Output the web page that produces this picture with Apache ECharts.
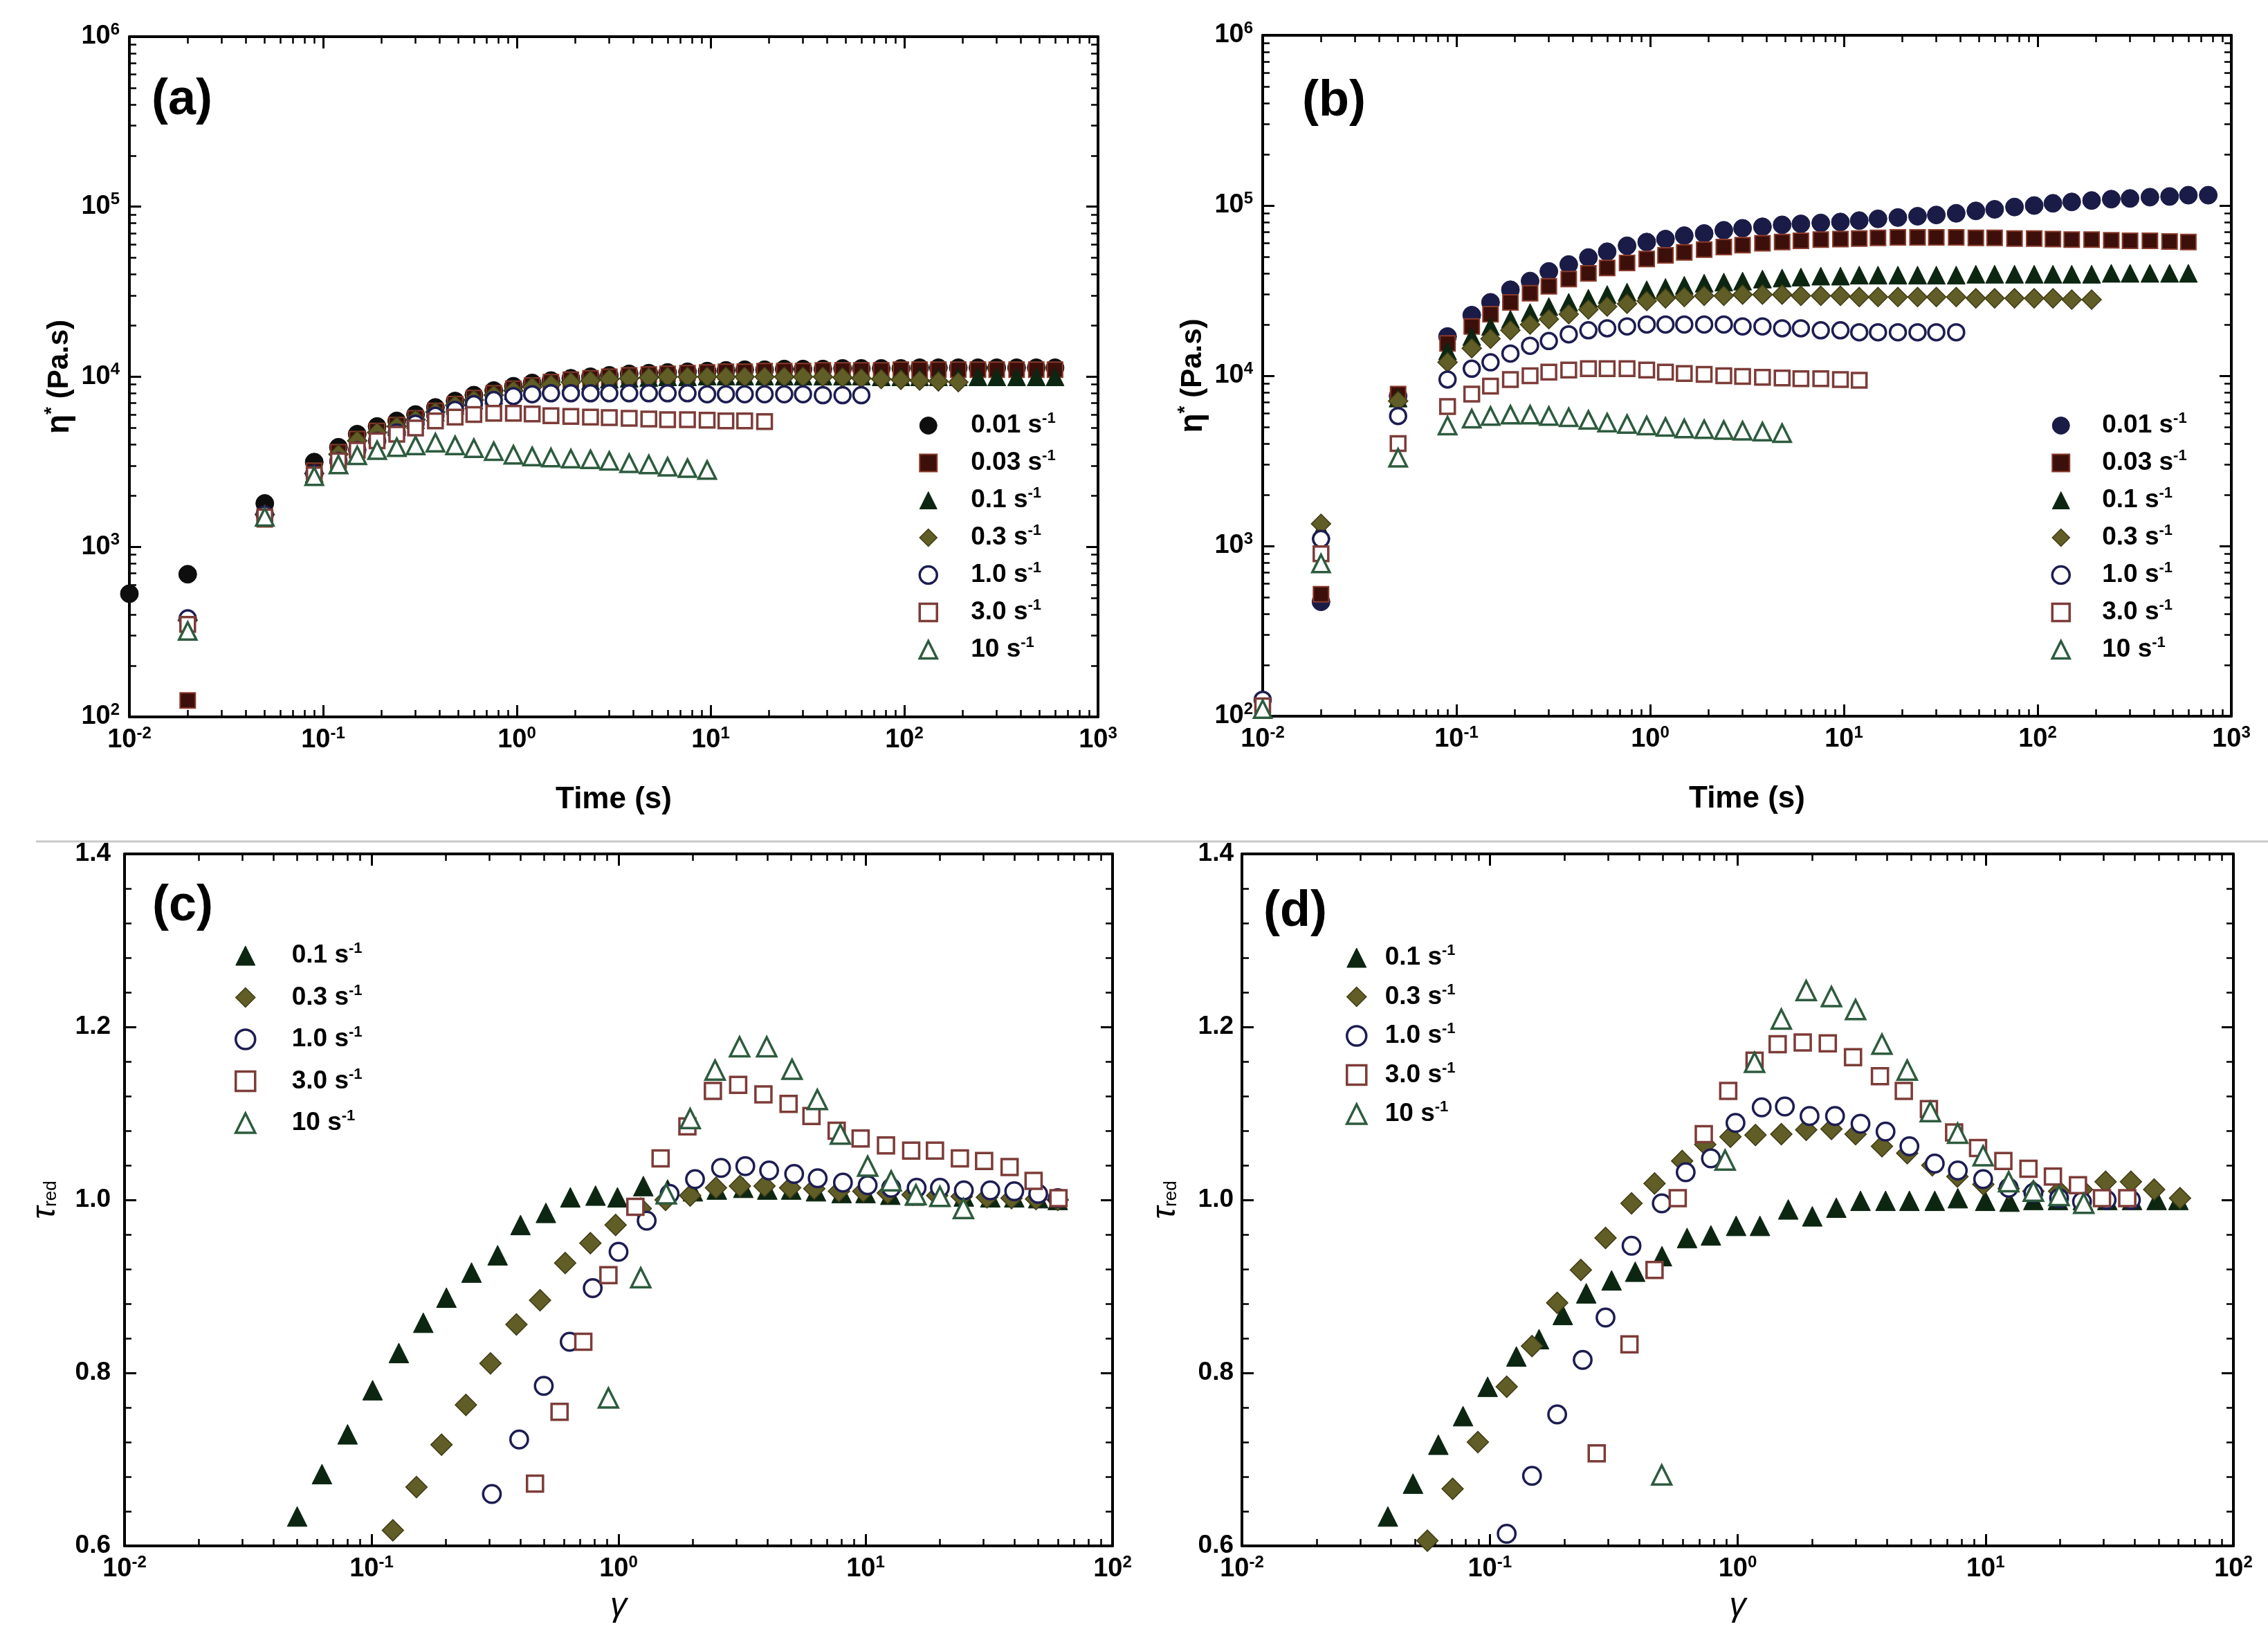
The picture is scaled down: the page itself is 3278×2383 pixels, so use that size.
<!DOCTYPE html>
<html><head><meta charset="utf-8">
<script src="https://cdn.jsdelivr.net/npm/echarts@6/dist/echarts.min.js"></script>
<style>html,body{margin:0;padding:0;background:#fff}#c{width:3278px;height:2383px}</style>
</head><body><div id="c"></div>
<script>
// ---------------- DATA ----------------
const RATES = ['0.01', '0.03', '0.1', '0.3', '1.0', '3.0', '10'];
const RATES_CD = ['0.1', '0.3', '1.0', '3.0', '10'];
const TIME = [0.01, 0.02, 0.05, 0.09, 0.12, 0.15, 0.19, 0.24, 0.30, 0.38,
  0.48, 0.60, 0.76, 0.96, 1.2, 1.5, 1.9, 2.4, 3.0, 3.8,
  4.8, 6.0, 7.6, 9.6, 12, 15, 19, 24, 30, 38,
  48, 60, 76, 96, 120, 150, 190, 240, 300, 380,
  480, 600, 760];
const X_LOG_TICKS_AB = [0.01, 1000];
const Y_LOG_TICKS_AB = [100, 1000000];
const X_LOG_TICKS_CD = [0.01, 100];
const Y_LIN_TICKS_CD = [0.6, 1.4, 0.2];

// panel (a): eta* (Pa.s) vs time
const A_001 = [530, 690, 1800, 3150, 3850, 4600, 5100, 5500, 6000, 6600,
  7200, 7800, 8300, 8800, 9200, 9500, 9800, 10000, 10200, 10400,
  10500, 10600, 10700, 10800, 10900, 11000, 11000, 11100, 11100, 11100,
  11200, 11200, 11200, 11200, 11300, 11300, 11300, 11300, 11300, 11300,
  11300, 11300];
const A_003 = [null, 125, 1450, 2800, 3600, 4300, 4800, 5200, 5700, 6300,
  6900, 7500, 8000, 8500, 8900, 9300, 9600, 9800, 10000, 10200,
  10300, 10400, 10500, 10600, 10700, 10700, 10800, 10800, 10800, 10900,
  10900, 10900, 10900, 11000, 11000, 11000, 11000, 11000, 11000, 11000,
  11000, 11000];
const A_01 = [null, 320, 1500, 2700, 3500, 4200, 4700, 5100, 5600, 6200,
  6800, 7300, 7800, 8300, 8700, 9000, 9300, 9500, 9700, 9800,
  9900, 10000, 10000, 10100, 10100, 10100, 10100, 10100, 10100, 10100,
  10100, 10100, 10000, 10000, 10000, 10000, 10000, 10000, 10000, 10000,
  10000, 10000];
const A_03 = [null, 370, 1550, 2700, 3500, 4200, 4700, 5100, 5600, 6200,
  6800, 7300, 7800, 8300, 8700, 9000, 9300, 9500, 9700, 9800,
  9900, 10000, 10000, 10000, 10000, 10000, 10000, 10000, 10000, 10000,
  9900, 9800, 9700, 9600, 9500, 9400, 9300];
const A_1 = [null, 380, 1550, 2700, 3200, 3700, 4200, 4700, 5300, 5900,
  6400, 6900, 7300, 7700, 7900, 8000, 8000, 8000, 8000, 8000,
  8000, 8000, 8000, 7900, 7900, 7900, 7900, 7900, 7900, 7800,
  7800, 7800];
const A_3 = [null, 350, 1500, 2650, 3200, 3700, 4200, 4600, 5000, 5500,
  5800, 6000, 6100, 6100, 6050, 5900, 5850, 5800, 5750, 5700,
  5650, 5600, 5600, 5550, 5500, 5500, 5450];
const A_10 = [null, 320, 1500, 2600, 3050, 3450, 3700, 3850, 3950, 4100,
  3950, 3800, 3650, 3480, 3400, 3350, 3300, 3270, 3200, 3100,
  3050, 2960, 2900, 2830];

// panel (b)
const B_001 = [null, 470, 7600, 17000, 22700, 27000, 32000, 36000, 41000, 45000,
  49500, 53500, 58000, 61000, 63500, 66500, 68500, 71500, 73500, 75000,
  77000, 78000, 79000, 80000, 81500, 83500, 85000, 86500, 88000, 90000,
  93000, 95000, 98000, 100000, 103000, 105000, 107000, 109000, 110000, 112000,
  113000, 115000, 115000];
const B_003 = [null, 520, 7800, 15500, 19500, 23000, 27000, 30500, 33500, 37000,
  40000, 43000, 46000, 48500, 51000, 53000, 55000, 57000, 58500, 60000,
  61000, 62000, 63000, 63500, 64000, 64500, 65000, 65000, 65000, 65000,
  64500, 64500, 64000, 64000, 63500, 63000, 63000, 62500, 62000, 62000,
  61500, 61000];
const B_01 = [null, 1250, 7400, 14000, 17000, 19500, 21500, 23500, 25500, 27000,
  28500, 30000, 31000, 32000, 33000, 34000, 35000, 35500, 36000, 37000,
  37500, 38000, 38500, 38500, 39000, 39000, 39000, 39000, 39000, 39000,
  39500, 39500, 39500, 39500, 39500, 39500, 39500, 40000, 40000, 40000,
  40000, 40000];
const B_03 = [null, 1350, 7100, 12000, 14500, 16500, 18500, 20000, 21500, 23000,
  24500, 25500, 26500, 27500, 28500, 29000, 29500, 29500, 30000, 30000,
  30000, 29500, 29500, 29500, 29000, 29000, 29000, 29000, 29000, 29000,
  28500, 28500, 28500, 28500, 28500, 28000, 28000];
const B_1 = [125, 1100, 5800, 9500, 11000, 12000, 13500, 15000, 16000, 17500,
  18500, 19000, 19500, 20000, 20000, 20000, 20000, 20000, 19500, 19500,
  19000, 19000, 18500, 18500, 18000, 18000, 18000, 18000, 18000, 18000];
const B_3 = [115, 900, 4000, 6600, 7800, 8700, 9500, 10000, 10500, 10800,
  11000, 11000, 11000, 10800, 10500, 10300, 10200, 10000, 9900, 9800,
  9700, 9600, 9600, 9500, 9400];
const B_10 = [110, 790, 3300, 5100, 5600, 5800, 5900, 5900, 5800, 5700,
  5500, 5300, 5200, 5100, 5000, 4900, 4850, 4800, 4750, 4700,
  4600];

// panel (c): tau_red vs strain
const C_G01 = [0.050, 0.063, 0.080, 0.101, 0.129, 0.162, 0.201, 0.254, 0.324, 0.401, 0.508, 0.638, 0.807, 0.99, 1.26, 1.58, 2.0, 2.5, 3.2, 4.0, 5.0, 6.3, 8.0, 10, 12.6, 15.8, 20, 25, 32, 40, 50, 60];
const C_T01 = [0.634, 0.683, 0.729, 0.780, 0.823, 0.858, 0.887, 0.916, 0.936, 0.971, 0.985, 1.003, 1.005, 1.003, 1.016, 1.012, 1.010, 1.012, 1.014, 1.012, 1.012, 1.010, 1.008, 1.008, 1.006, 1.005, 1.004, 1.004, 1.003, 1.003, 1.002, 1.0];
const C_G03 = [0.122, 0.152, 0.192, 0.241, 0.303, 0.386, 0.481, 0.608, 0.769, 0.973, 1.23, 1.55, 1.95, 2.48, 3.1, 3.9, 4.95, 6.2, 7.8, 9.8, 12.3, 15.5, 19.5, 24.5, 31, 39, 49, 60];
const C_T03 = [0.618, 0.668, 0.717, 0.763, 0.811, 0.856, 0.884, 0.927, 0.950, 0.971, 0.99, 1.0, 1.005, 1.014, 1.016, 1.016, 1.014, 1.013, 1.010, 1.010, 1.008, 1.006, 1.005, 1.004, 1.003, 1.002, 1.001, 1.0];
const C_G1 = [0.307, 0.396, 0.498, 0.634, 0.786, 1.0, 1.30, 1.61, 2.04, 2.6, 3.26, 4.07, 5.14, 6.4, 8.1, 10.2, 12.7, 16.1, 20, 25, 32, 40, 50, 60];
const C_T1 = [0.660, 0.723, 0.785, 0.836, 0.898, 0.940, 0.976, 1.007, 1.024, 1.037, 1.039, 1.034, 1.030, 1.025, 1.020, 1.017, 1.014, 1.014, 1.014, 1.011, 1.011, 1.010, 1.007, 1.002];
const C_G3 = [0.459, 0.577, 0.72, 0.91, 1.17, 1.48, 1.9, 2.41, 3.05, 3.86, 4.88, 6.04, 7.64, 9.55, 12.1, 15.3, 19.1, 24.1, 30.2, 38.3, 47.9, 60.4];
const C_T3 = [0.672, 0.755, 0.836, 0.913, 0.992, 1.048, 1.085, 1.126, 1.133, 1.122, 1.111, 1.097, 1.080, 1.071, 1.063, 1.057, 1.057, 1.048, 1.045, 1.038, 1.022, 1.002];
const C_G10 = [0.91, 1.23, 1.56, 1.95, 2.46, 3.09, 3.98, 5.04, 6.38, 7.91, 10.2, 12.7, 16, 20, 24.9];
const C_T10 = [0.771, 0.910, 1.007, 1.094, 1.150, 1.177, 1.177, 1.151, 1.116, 1.076, 1.039, 1.022, 1.006, 1.004, 0.99];

// panel (d)
const D_G01 = [0.0388, 0.049, 0.062, 0.078, 0.098, 0.128, 0.158, 0.197, 0.245, 0.31, 0.386, 0.495, 0.625, 0.78, 0.986, 1.23, 1.60, 2.0, 2.5, 3.13, 3.95, 4.93, 6.24, 7.73, 9.97, 12.5, 15.6, 19.6, 24.7, 31, 39, 49, 60];
const D_T01 = [0.634, 0.672, 0.717, 0.750, 0.784, 0.819, 0.839, 0.867, 0.892, 0.907, 0.917, 0.935, 0.956, 0.959, 0.970, 0.970, 0.989, 0.981, 0.991, 0.999, 0.999, 0.999, 0.999, 1.002, 0.999, 0.998, 1.0, 1.0, 1.0, 1.0, 1.0, 1.0, 1.0];
const D_G03 = [0.056, 0.0708, 0.0895, 0.117, 0.148, 0.187, 0.233, 0.293, 0.373, 0.462, 0.597, 0.74, 0.935, 1.18, 1.5, 1.89, 2.39, 2.99, 3.82, 4.83, 6.1, 7.7, 9.8, 12.4, 15.6, 19.8, 24.5, 30.5, 38.6, 47.9, 60.9];
const D_T03 = [0.606, 0.666, 0.720, 0.784, 0.831, 0.881, 0.919, 0.956, 0.996, 1.019, 1.045, 1.064, 1.073, 1.075, 1.076, 1.081, 1.082, 1.076, 1.062, 1.054, 1.040, 1.027, 1.018, 1.013, 1.010, 1.010, 1.012, 1.021, 1.021, 1.012, 1.002];
const D_G1 = [0.117, 0.148, 0.187, 0.237, 0.293, 0.373, 0.494, 0.617, 0.78, 0.98, 1.25, 1.55, 1.95, 2.47, 3.13, 3.95, 4.93, 6.24, 7.73, 9.78, 12.4, 15.6, 19.8, 24.5, 30.8, 38.6];
const D_T1 = [0.614, 0.681, 0.752, 0.815, 0.864, 0.947, 0.996, 1.032, 1.048, 1.089, 1.107, 1.108, 1.097, 1.097, 1.088, 1.079, 1.062, 1.042, 1.034, 1.024, 1.014, 1.008, 1.002, 0.998, 1.0, 1.0];
const D_G3 = [0.27, 0.366, 0.462, 0.573, 0.73, 0.916, 1.17, 1.45, 1.83, 2.31, 2.92, 3.75, 4.68, 5.91, 7.47, 9.33, 11.8, 14.9, 18.7, 23.6, 29.5, 37.3];
const D_T3 = [0.707, 0.833, 0.919, 1.002, 1.076, 1.126, 1.161, 1.180, 1.182, 1.181, 1.165, 1.143, 1.126, 1.105, 1.078, 1.060, 1.045, 1.036, 1.027, 1.017, 1.002, 1.002];
const D_G10 = [0.494, 0.89, 1.17, 1.5, 1.89, 2.39, 2.99, 3.82, 4.83, 5.99, 7.72, 9.78, 12.4, 15.6, 19.8, 24.9];
const D_T10 = [0.682, 1.046, 1.159, 1.209, 1.242, 1.235, 1.220, 1.180, 1.150, 1.102, 1.077, 1.051, 1.021, 1.010, 1.005, 0.996];

// ---------------- STYLE ----------------
const FF = "'Liberation Sans', Arial, Helvetica, sans-serif";
const STYLE = {
  '0.01': {symbol: 'circle', size: 26, fill: '#0e0e0e', stroke: '#0e0e0e', bw: 1},
  '0.03': {symbol: 'rect', size: 22, fill: '#3c0f0a', stroke: '#8a3b2b', bw: 2},
  '0.1': {symbol: 'triangle', size: 26, fill: '#0c2611', stroke: '#0c2611', bw: 1},
  '0.3': {symbol: 'diamond', size: 28, fill: '#615d26', stroke: '#3f3c16', bw: 1.5},
  '1.0': {symbol: 'circle', size: 23, fill: '#ffffff', stroke: '#1d1d52', bw: 3.5},
  '3.0': {symbol: 'rect', size: 21, fill: '#ffffff', stroke: '#7d3c38', bw: 3.5},
  '10': {symbol: 'triangle', size: 25, fill: '#ffffff', stroke: '#2d5b3e', bw: 3.5}
};
const B_CIRCLE = '#1b1b48';

const GRIDS = [
  {left: 187, top: 53, width: 1400, height: 983},
  {left: 1825, top: 51, width: 1400, height: 984},
  {left: 180, top: 1234, width: 1428, height: 1000},
  {left: 1795, top: 1234, width: 1433, height: 1000}
];

const tickRich = {
  b: {fontSize: 38, fontWeight: 'bold', fontFamily: FF, color: '#000'},
  s: {fontSize: 24, fontWeight: 'bold', fontFamily: FF, color: '#000', padding: [0, 0, 20, 0]}
};
const logFmt = v => '{b|10}{s|' + Math.round(Math.log10(v)) + '}';

const lineStyleAxis = {color: '#000', width: 4};
function axisBase(extra) {
  return Object.assign({
    axisLine: {show: true, onZero: false, lineStyle: lineStyleAxis},
    axisTick: {show: true, inside: true, length: 17, lineStyle: {color: '#000', width: 3}},
    splitLine: {show: false},
    minorSplitLine: {show: false}
  }, extra);
}

const xAxes = [], yAxes = [];
function addLogX(gi, mm, nameText, nameGap, nameRich) {
  const common = {type: 'log', logBase: 10, min: mm[0], max: mm[1], gridIndex: gi,
    minorTick: {show: true, splitNumber: 9, length: 10, lineStyle: {color: '#000', width: 2.5}}};
  xAxes.push(axisBase(Object.assign({}, common, {
    position: 'bottom',
    axisLabel: {show: true, margin: 12, formatter: logFmt, rich: tickRich},
    name: nameText, nameLocation: 'middle', nameGap: nameGap,
    nameTextStyle: {rich: nameRich}
  })));
  xAxes.push(axisBase(Object.assign({}, common, {position: 'top', axisLabel: {show: false}})));
}
function addLogY(gi, mm, nameText, nameGap, nameRich) {
  const common = {type: 'log', logBase: 10, min: mm[0], max: mm[1], gridIndex: gi,
    minorTick: {show: true, splitNumber: 9, length: 10, lineStyle: {color: '#000', width: 2.5}}};
  yAxes.push(axisBase(Object.assign({}, common, {
    position: 'left',
    axisLabel: {show: true, margin: 14, formatter: logFmt, rich: tickRich},
    name: nameText, nameLocation: 'middle', nameGap: nameGap, nameRotate: 90,
    nameTextStyle: {rich: nameRich}
  })));
  yAxes.push(axisBase(Object.assign({}, common, {position: 'right', axisLabel: {show: false}})));
}
function addLinY(gi, mm, nameText, nameGap, nameRich, margin) {
  const common = {type: 'value', min: mm[0], max: mm[1], interval: mm[2], gridIndex: gi,
    minorTick: {show: true, splitNumber: 5, length: 10, lineStyle: {color: '#000', width: 2.5}}};
  yAxes.push(axisBase(Object.assign({}, common, {
    position: 'left',
    axisLabel: {show: true, margin: margin, formatter: v => v.toFixed(1),
      fontSize: 37, fontWeight: 'bold', fontFamily: FF, color: '#000'},
    name: nameText, nameLocation: 'middle', nameGap: nameGap, nameRotate: 90,
    nameTextStyle: {rich: nameRich}
  })));
  yAxes.push(axisBase(Object.assign({}, common, {position: 'right', axisLabel: {show: false}})));
}

const timeRich = {n: {fontSize: 44, fontWeight: 'bold', fontFamily: FF, color: '#000'}};
const etaRich = {
  e: {fontSize: 46, fontWeight: 'bold', fontFamily: FF, color: '#000'},
  st: {fontSize: 28, fontWeight: 'bold', fontFamily: FF, color: '#000', padding: [0, 0, 22, 0]},
  n: {fontSize: 42, fontWeight: 'bold', fontFamily: FF, color: '#000'}
};
const gamRich = {g: {fontSize: 48, fontStyle: 'italic', fontFamily: FF, color: '#000'}};
const tauRich = {
  t: {fontSize: 48, fontStyle: 'italic', fontFamily: FF, color: '#000'},
  r: {fontSize: 26, fontFamily: FF, color: '#000', padding: [16, 0, 0, 0]}
};

addLogX(0, X_LOG_TICKS_AB, '{n|Time (s)}', 98, timeRich);
addLogY(0, Y_LOG_TICKS_AB, '{e|η}{st|*}{n| (Pa.s)}', 76, etaRich);
addLogX(1, X_LOG_TICKS_AB, '{n|Time (s)}', 98, timeRich);
addLogY(1, Y_LOG_TICKS_AB, '{e|η}{st|*}{n| (Pa.s)}', 76, etaRich);
addLogX(2, X_LOG_TICKS_CD, '{g|γ}', 64, gamRich);
addLinY(2, Y_LIN_TICKS_CD, '{t|τ}{r|red}', 90, tauRich, 20);
addLogX(3, X_LOG_TICKS_CD, '{g|γ}', 64, gamRich);
addLinY(3, Y_LIN_TICKS_CD, '{t|τ}{r|red}', 86, tauRich, 12);

// ---------------- SERIES ----------------
const series = [];
function mk(rate, xs, ys, gi, scale, colorOverride) {
  const st = STYLE[rate];
  const data = [];
  for (let i = 0; i < ys.length; i++) if (ys[i] != null) data.push([xs[i], ys[i]]);
  const fill = colorOverride || st.fill;
  const stroke = colorOverride || st.stroke;
  series.push({
    type: 'scatter', name: rate + ' s-1', xAxisIndex: gi * 2, yAxisIndex: gi * 2,
    data: data, symbol: st.symbol, symbolSize: st.size * scale,
    itemStyle: {color: fill, borderColor: stroke, borderWidth: st.bw, opacity: 1},
    emphasis: {disabled: true}, animation: false, clip: false
  });
}
const A_SET = [A_001, A_003, A_01, A_03, A_1, A_3, A_10];
const B_SET = [B_001, B_003, B_01, B_03, B_1, B_3, B_10];
RATES.forEach((r, i) => mk(r, TIME, A_SET[i], 0, 1));
RATES.forEach((r, i) => mk(r, TIME, B_SET[i], 1, 1, i === 0 ? B_CIRCLE : null));
const C_X = [C_G01, C_G03, C_G1, C_G3, C_G10], C_Y = [C_T01, C_T03, C_T1, C_T3, C_T10];
const D_X = [D_G01, D_G03, D_G1, D_G3, D_G10], D_Y = [D_T01, D_T03, D_T1, D_T3, D_T10];
RATES_CD.forEach((r, i) => mk(r, C_X[i], C_Y[i], 2, 1.1));
RATES_CD.forEach((r, i) => mk(r, D_X[i], D_Y[i], 3, 1.1));

// ---------------- LEGENDS ----------------
const legFmt = name => '{b|' + name.replace(' s-1', ' s') + '}{s|-1}';
function legend(rates, centerX, top, size, gap, textPad, circleColor) {
  const rich = {
    b: {fontSize: 37, fontWeight: 'bold', fontFamily: FF, color: '#000', padding: [0, 0, 0, textPad]},
    s: {fontSize: 22, fontWeight: 'bold', fontFamily: FF, color: '#000', padding: [0, 0, 20, 0]}
  };
  return {
    orient: 'vertical', left: centerX - size / 2, top: top, itemWidth: size, itemHeight: size,
    itemGap: gap, padding: 0, selectedMode: false,
    data: rates.map((r) => {
      const it = {name: r + ' s-1', itemStyle: {borderWidth: STYLE[r].bw}};
      if (r === '0.01' && circleColor) { it.itemStyle.color = circleColor; it.itemStyle.borderColor = circleColor; }
      return it;
    }),
    formatter: legFmt, textStyle: {rich: rich}
  };
}

const option = {
  backgroundColor: '#ffffff',
  animation: false,
  grid: GRIDS,
  xAxis: xAxes,
  yAxis: yAxes,
  series: series,
  legend: [
    legend(RATES, 1340, 594, 25, 14.5, 44),
    legend(RATES, 2977, 594, 25, 14.5, 42, B_CIRCLE),
    legend(RATES_CD, 353, 1360, 28, 21, 48),
    legend(RATES_CD, 1959, 1363, 28, 17, 22)
  ],
  graphic: [
    {type: 'line', shape: {x1: 52, y1: 1216, x2: 3278, y2: 1216}, style: {stroke: '#c9c9c9', lineWidth: 3}},
    {type: 'text', x: 219, y: 145, style: {text: '(a)', fontSize: 72, fontWeight: 'bold', fontFamily: FF, fill: '#000', align: 'left', verticalAlign: 'middle'}},
    {type: 'text', x: 1882, y: 147, style: {text: '(b)', fontSize: 72, fontWeight: 'bold', fontFamily: FF, fill: '#000', align: 'left', verticalAlign: 'middle'}},
    {type: 'text', x: 220, y: 1310, style: {text: '(c)', fontSize: 72, fontWeight: 'bold', fontFamily: FF, fill: '#000', align: 'left', verticalAlign: 'middle'}},
    {type: 'text', x: 1826, y: 1318, style: {text: '(d)', fontSize: 72, fontWeight: 'bold', fontFamily: FF, fill: '#000', align: 'left', verticalAlign: 'middle'}}
  ]
};

const chart = echarts.init(document.getElementById('c'), null, {renderer: 'canvas', width: 3278, height: 2383});
chart.setOption(option);
</script>
</body></html>
